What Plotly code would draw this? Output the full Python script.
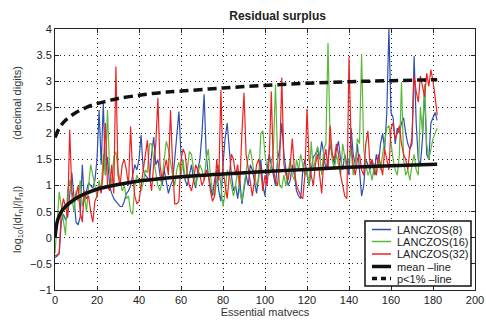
import plotly.graph_objects as go

x_vals = list(range(183))

lanczos8 = [
    -0.38, -0.35, -0.3, 0.3, 0.45, 0.35, 0.4, 0.9, 1.25, 0.8,
    0.3, 0.25, 0.4, 1.4, 0.7, 0.9, 1.05, 1.0, 0.95, 1.1,
    1.5, 2.45, 1.4, 2.59, 1.2, 1.55, 1.0, 0.85, 0.75, 0.7,
    0.65, 0.6, 0.6, 0.7, 0.85, 0.9, 1.0, 1.2, 1.4, 1.3,
    1.5, 1.97, 1.3, 1.2, 1.15, 1.1, 1.6, 1.93, 1.4, 1.5,
    1.2, 1.0, 1.3, 1.1, 0.85, 1.0, 1.1, 1.5, 1.9, 2.42,
    1.6, 1.3, 1.1, 1.0, 1.2, 1.4, 1.1, 0.95, 1.3, 1.5,
    2.0, 2.75, 1.6, 1.2, 1.0, 0.8, 1.1, 1.3, 0.9, 0.7,
    1.4, 1.9, 2.2, 1.6, 1.2, 0.9, 1.0, 0.75, 1.1, 0.65,
    0.9, 1.2, 1.0, 1.4, 1.3, 1.1, 0.85, 1.2, 1.5, 1.0,
    0.8, 1.3, 1.6, 1.4, 1.2, 1.0, 1.5, 1.7, 2.2, 1.6,
    1.3, 1.0, 1.1, 1.4, 1.2, 0.9, 0.8, 0.75, 1.3, 1.5,
    1.2, 1.0, 1.3, 1.55, 1.6, 1.7, 1.5, 1.85, 1.6, 1.3,
    1.5, 1.8, 1.6, 1.4, 1.7, 1.85, 1.5, 1.3, 1.6, 1.4,
    1.2, 2.1, 1.6, 1.4, 1.8, 1.3, 0.8, 1.0, 1.5, 1.4,
    1.3, 1.5, 1.2, 1.6, 1.4, 1.8, 2.0, 1.7, 2.4, 4.0,
    2.4, 2.3, 1.8, 2.1, 2.0, 2.2, 2.3, 2.0, 1.8, 1.7,
    1.8, 3.48, 2.2, 1.5, 1.4, 1.9, 2.85, 1.6, 1.5, 2.2,
    2.3, 2.4, 2.25,
]

lanczos16 = [
    -0.3, 0.4, 0.88, 0.6, 0.3, 0.05, 0.9, 1.1, 0.8, 0.5,
    0.9, 0.7, 1.1, 0.6, 0.8, 0.5, 1.0, 1.4, 1.2, 1.0,
    0.8, 1.1, 0.9, 1.6, 1.2, 2.45, 1.3, 1.0, 1.55, 1.65,
    1.3, 1.1, 0.9, 1.0, 0.75, 0.8, 0.5, 0.45, 1.0, 1.2,
    1.1, 0.9, 1.05, 1.3, 1.25, 1.8, 1.8, 1.5, 1.2, 1.0,
    0.9, 1.1, 1.5, 1.85, 1.7, 1.4, 1.2, 1.0, 1.3, 1.45,
    1.2, 1.5, 1.1, 1.3, 1.65, 1.6, 1.3, 1.0, 1.2, 1.4,
    1.3, 1.1, 1.5, 1.7, 1.2, 0.9, 0.8, 1.1, 1.4, 1.0,
    0.6, 0.85, 1.3, 1.2, 1.0, 0.8, 1.0, 1.3, 0.9, 0.7,
    1.0, 1.3, 1.55, 1.7, 1.4, 1.2, 1.0, 1.1, 2.0, 2.05,
    1.6, 1.3, 1.2, 1.4, 1.7, 2.94, 1.5, 1.0, 0.95, 1.2,
    1.0, 1.3, 1.5, 1.2, 1.1, 1.5, 1.3, 1.6, 1.4, 1.2,
    1.3, 1.0, 1.85, 1.3, 1.5, 1.75, 1.6, 1.2, 1.7, 1.8,
    3.73, 1.9, 1.5, 1.3, 1.6, 1.4, 1.2, 1.8, 1.5, 1.3,
    1.5, 1.7, 1.2, 1.4, 1.9, 1.8, 3.52, 1.7, 1.4, 1.2,
    1.3, 1.1, 1.4, 1.2, 1.5, 1.3, 1.6, 1.9, 2.1, 2.15,
    1.8, 1.5, 1.3, 1.2, 1.6, 2.98, 1.5, 1.2, 1.3, 1.1,
    1.4, 1.6, 1.3, 1.2, 2.5, 2.0, 2.94, 1.8, 1.5, 1.7,
    1.9, 2.0, 2.1,
]

lanczos32 = [
    -0.35, -0.32, -0.3, 0.5, 0.75, 0.6, 0.4, 2.07, 0.9, 0.7,
    0.8, 1.0, 0.5, 0.3, 0.9, 0.75, 0.8, 0.5, 0.3, 0.7,
    0.8, 1.0, 0.85, 1.3, 2.2, 1.0, 0.9, 1.4, 0.85, 3.28,
    1.2, 1.0, 1.4, 1.5, 1.3, 1.0, 2.13, 1.2, 0.8, 0.65,
    0.7, 1.0, 1.3, 1.6, 1.87, 1.2, 0.9, 1.4, 1.8, 2.68,
    1.4, 1.1, 1.3, 1.5, 1.2, 2.45, 1.4, 0.65, 0.65, 0.7,
    1.5, 1.7, 1.6, 1.2, 1.0, 0.9, 1.1, 1.4, 1.3, 1.2,
    1.0, 1.1, 1.3, 1.2, 0.9, 0.7, 0.8, 1.5, 1.1, 2.83,
    1.3, 1.0, 0.75, 1.2, 1.6, 1.5, 1.2, 1.4, 1.0, 2.0,
    2.78, 1.6, 1.3, 1.0, 0.8, 1.1, 1.4, 1.5, 1.3, 0.9,
    1.2, 1.0, 1.5, 2.8, 1.3, 1.1, 1.0, 1.5, 3.07, 1.4,
    1.2, 1.1, 1.4, 1.9, 1.3, 1.0, 0.9, 0.8, 0.75, 1.2,
    2.47, 1.5, 1.2, 1.0, 1.4, 1.6, 1.2, 0.85, 1.5, 1.7,
    1.3, 2.15, 1.6, 1.5, 1.8, 1.6, 1.2, 1.0, 0.8, 0.75,
    3.47, 1.8, 1.4, 1.2, 1.5, 1.6, 1.3, 1.2, 1.8, 2.05,
    1.4, 1.5, 1.3, 1.2, 1.6, 1.4, 1.2, 1.7, 1.5, 1.3,
    2.1, 2.2, 1.9, 2.0, 2.15, 1.8, 1.6, 1.5, 1.3, 1.7,
    1.9, 3.1, 2.8, 2.6, 3.1, 2.9, 2.7, 3.15, 2.9, 3.22,
    3.0, 2.7, 2.35,
]

mean_x = [0, 1, 2, 3, 5, 8, 12, 16, 20, 30, 40, 50, 60, 80, 100, 120, 140, 160, 182]
mean_y = [0.0, 0.3, 0.42, 0.5, 0.6, 0.7, 0.8, 0.87, 0.93, 1.02, 1.09, 1.13, 1.17, 1.22, 1.27, 1.31, 1.35, 1.38, 1.41]

p1_x = [0, 2, 5, 10, 15, 20, 25, 30, 40, 50, 60, 80, 100, 120, 140, 160, 182]
p1_y = [1.92, 2.1, 2.25, 2.4, 2.5, 2.57, 2.62, 2.67, 2.73, 2.78, 2.81, 2.87, 2.92, 2.96, 2.99, 3.01, 3.03]

x_ticks = list(range(0, 201, 20))
y_ticks = [-1, -0.5, 0, 0.5, 1, 1.5, 2, 2.5, 3, 3.5, 4]

series_names = ["LANCZOS(8)", "LANCZOS(16)", "LANCZOS(32)", "mean \u2013line", "p<1% \u2013line"]
series_colors = ["#2f4fb0", "#5cb83a", "#f02020", "#111111", "#111111"]

FONT = "Liberation Sans, Arial, sans-serif"

fig = go.Figure()
for yv, nm, col in zip([lanczos8, lanczos16, lanczos32], series_names[:3], series_colors[:3]):
    fig.add_trace(go.Scatter(x=x_vals, y=yv, mode="lines", name=nm,
                             line=dict(color=col, width=1.2), showlegend=False))
fig.add_trace(go.Scatter(x=mean_x, y=mean_y, mode="lines", name=series_names[3],
                         line=dict(color=series_colors[3], width=3.5, shape="spline"), showlegend=False))
fig.add_trace(go.Scatter(x=p1_x, y=p1_y, mode="lines", name=series_names[4],
                         line=dict(color=series_colors[4], width=3.5, shape="spline", dash="9px,5px"),
                         showlegend=False))

axis_common = dict(
    showgrid=True, gridcolor="#222222", griddash="1.3px,3.2px", gridwidth=1.1,
    showline=True, linecolor="#222222", linewidth=1, mirror="ticks",
    ticks="inside", ticklen=4, tickcolor="#222222", zeroline=False, automargin=False,
    tickfont=dict(family=FONT, size=11, color="#222222"),
)

fig.update_xaxes(range=[0, 200], tickvals=x_ticks, **axis_common,
                 title=dict(text="Essential matvecs", standoff=0,
                            font=dict(family=FONT, size=11, color="#333333")))
sp = "\u00a0" * 15
fig.update_yaxes(range=[-1, 4], tickvals=y_ticks, **axis_common,
                 title=dict(text="log<sub>10</sub>(|dr<sub>n</sub>|/|r<sub>n</sub>|)" + sp + "(decimal digits)",
                            standoff=6, font=dict(family=FONT, size=11, color="#333333")))

# custom legend box (pixel layout converted to paper coords)
L, R, T, B = 55, 475, 29, 290
def px(xp):
    return (xp - L) / (R - L)
def py(yp):
    return (B - yp) / (B - T)

shapes = [dict(type="rect", xref="paper", yref="paper",
               x0=px(365), x1=px(471), y0=py(286), y1=py(221),
               line=dict(color="#111111", width=1.5), fillcolor="white", layer="above")]
annotations = []
item_y = [229.5, 241.5, 254, 266.5, 278.5]
for i, (nm, col) in enumerate(zip(series_names, series_colors)):
    w = 1.5 if i < 3 else 3.5
    dash = "solid" if i != 4 else "5px,4px"
    shapes.append(dict(type="line", xref="paper", yref="paper",
                       x0=px(372), x1=px(391), y0=py(item_y[i]), y1=py(item_y[i]),
                       line=dict(color=col, width=w, dash=dash), layer="above"))
    annotations.append(dict(xref="paper", yref="paper", x=px(395), y=py(item_y[i]),
                            text=nm, showarrow=False, xanchor="left", yanchor="middle",
                            font=dict(family=FONT, size=11, color="#222222")))

fig.update_layout(
    width=486, height=321,
    margin=dict(l=55, r=11, t=29, b=31),
    paper_bgcolor="white", plot_bgcolor="white",
    title=dict(text="<b>Residual surplus</b>", x=0.53, xref="paper", y=0.965, yanchor="top",
               font=dict(family=FONT, size=12, color="#222222")),
    shapes=shapes, annotations=annotations,
    showlegend=False,
)

fig.write_html("out.html", config={"displayModeBar": False},
               post_script="document.body.style.margin='0px';document.body.style.overflow='hidden';")
